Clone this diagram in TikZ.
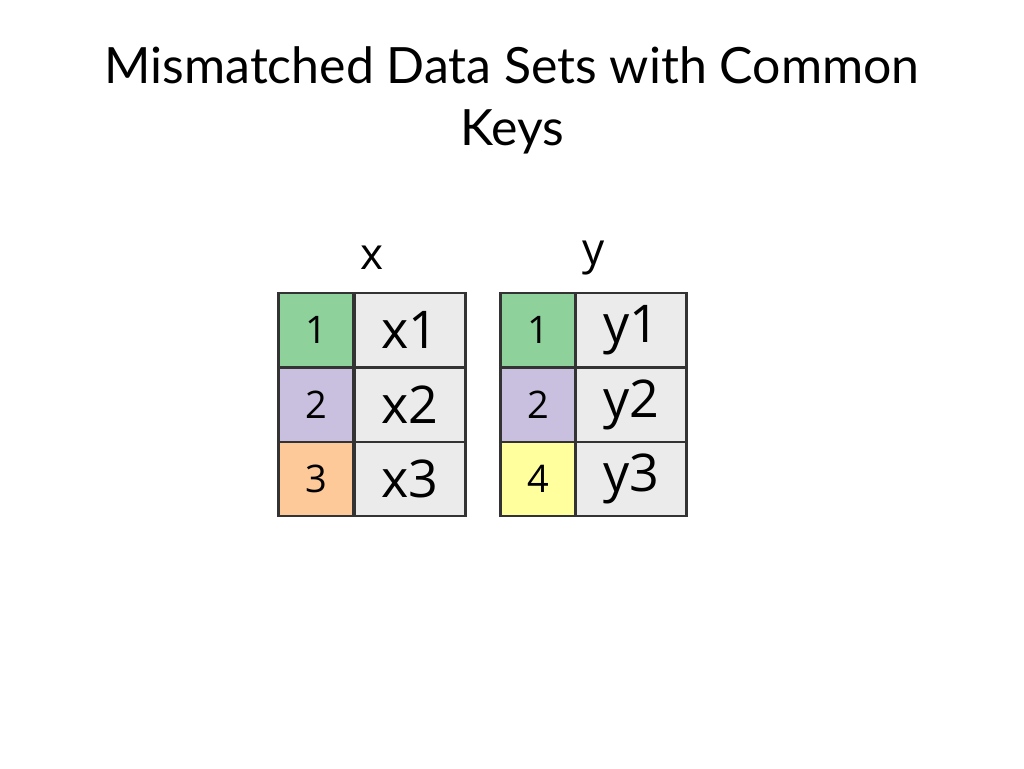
\documentclass[tikz,border=0pt]{standalone}
\usepackage{fontspec}
\setmainfont{Lato}
\setsansfont{Open Sans}
\begin{document}
\begin{tikzpicture}[x=1pt,y=-1pt]
\definecolor{kg}{HTML}{8FD19A}
\definecolor{kp}{HTML}{C9BFDF}
\definecolor{ko}{HTML}{FDC999}
\definecolor{ky}{HTML}{FFFF9E}
\definecolor{vg}{HTML}{EBEBEB}
\tikzset{cell/.style={draw=black!80,line width=2.5pt,minimum height=74pt,inner sep=0pt,font=\sffamily},
 key/.style={cell,minimum width=75pt,font=\sffamily\fontsize{38}{38}\selectfont},
 val/.style={cell,fill=vg,minimum width=111pt,font=\sffamily\fontsize{52}{52}\selectfont},
 lab/.style={font=\sffamily\fontsize{44}{44}\selectfont}}
\useasboundingbox (0,0) rectangle (1024,768);
\node (t1) at (512,65) {\fontsize{50}{50}\selectfont Mismatched Data Sets with Common};
\node (t2) at (512,132) {\fontsize{50}{50}\selectfont Keys};
\node[lab] (lx) at (372,258) {x};
\node[lab] (ly) at (594,258) {y};
\node[key,fill=kg] (xk1) at (316,330) {1};
\node[key,fill=kp] (xk2) at (316,405) {2};
\node[key,fill=ko] (xk3) at (316,479) {3};
\node[val] (xv1) at (410,330) {x1};
\node[val] (xv2) at (410,405) {x2};
\node[val] (xv3) at (410,479) {x3};
\node[key,fill=kg] (yk1) at (538,330) {1};
\node[key,fill=kp] (yk2) at (538,405) {2};
\node[key,fill=ky] (yk3) at (538,479) {4};
\node[val] (yv1) at (631,330) {y1};
\node[val] (yv2) at (631,405) {y2};
\node[val] (yv3) at (631,479) {y3};
\end{tikzpicture}
\end{document}
